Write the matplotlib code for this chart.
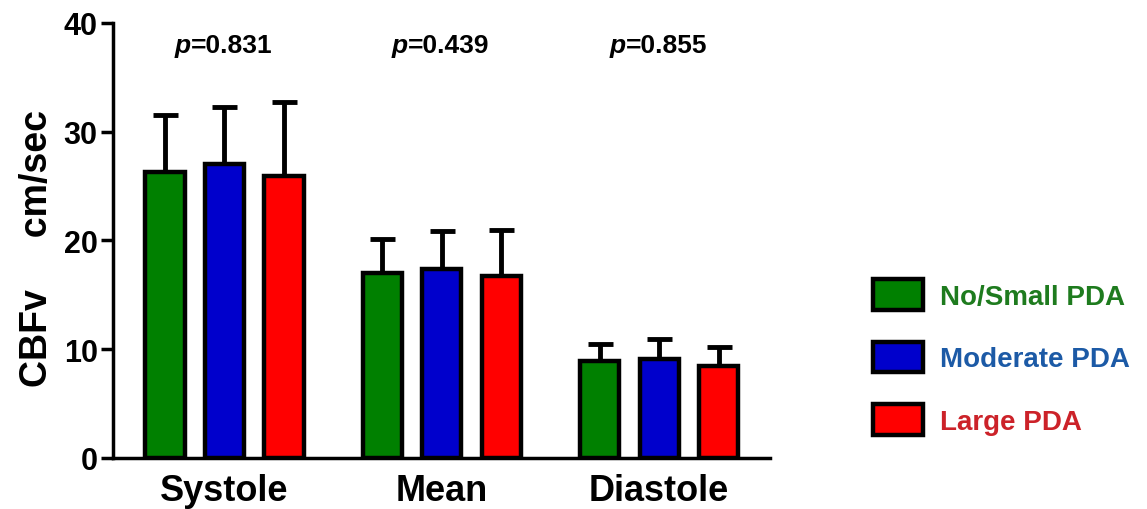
import numpy as np
import matplotlib
matplotlib.use('Agg')
import matplotlib.pyplot as plt

phases = ['Systole', 'Mean', 'Diastole']
groups = ['No/Small PDA', 'Moderate PDA', 'Large PDA']
means = {'No/Small PDA': [26.3, 17.0, 8.9],
         'Moderate PDA': [27.0, 17.4, 9.1],
         'Large PDA': [25.9, 16.7, 8.5]}
upper = {'No/Small PDA': [31.5, 20.1, 10.5],
         'Moderate PDA': [32.3, 20.9, 10.9],
         'Large PDA': [32.7, 21.0, 10.2]}
pvals = ['0.831', '0.439', '0.855']

fill_colors = ['#008000', '#0000cc', '#ff0000']
text_colors = ['#1e7b1e', '#1c5aa6', '#cc2229']

plt.rcParams['font.family'] = ['Liberation Sans', 'DejaVu Sans']

fig = plt.figure(figsize=(11.47, 5.1), dpi=100)
ax = fig.add_axes([0.0985, 0.1, 0.5725, 0.853])

x = np.arange(len(phases))
pitch = 0.2736
width = 0.18
for i, g in enumerate(groups):
    pos = x + (i - 1) * pitch
    m = np.array(means[g])
    err = np.array(upper[g]) - m
    ax.errorbar(pos, m, yerr=[np.zeros_like(err), err], fmt='none', ecolor='black',
                elinewidth=3.5, capsize=9, capthick=3.5, zorder=1)
    ax.bar(pos, m, width=width, color=fill_colors[i], edgecolor='black',
           linewidth=3.2, label=g, zorder=2)

# p values: italic "p" then the rest, roughly centred over each group
for xi, p in zip(x, pvals):
    ax.text(xi - 0.155, 38.0, 'p', ha='right', va='center', fontsize=19,
            fontweight='bold', fontstyle='italic')
    ax.text(xi - 0.155, 38.0, '=' + p, ha='left', va='center', fontsize=19,
            fontweight='bold')

ax.set_xlim(-0.513, 2.508)
ax.set_ylim(0, 40)
ax.set_yticks([0, 10, 20, 30, 40])
ax.set_xticks(x)
ax.set_xticklabels(phases, fontsize=26, fontweight='bold')
for lab in ax.get_yticklabels():
    lab.set_fontweight('bold')
    lab.set_fontsize(22)
ax.tick_params(axis='y', length=9, width=2.5, pad=2)
ax.tick_params(axis='x', length=0, pad=11)
for s in ['top', 'right']:
    ax.spines[s].set_visible(False)
for s in ['left', 'bottom']:
    ax.spines[s].set_linewidth(2.5)
ax.set_ylabel('CBFv     cm/sec', fontsize=27, fontweight='bold')
ax.yaxis.set_label_coords(-0.088, 0.485)

leg = fig.legend(loc='center left', bbox_to_anchor=(873 / 1147, 1 - 358 / 510),
                 frameon=False, handlelength=1.8, handleheight=1.33,
                 labelspacing=1.15, handletextpad=0.6, borderpad=0, borderaxespad=0,
                 labelcolor=text_colors, prop={'weight': 'bold', 'size': 20})

plt.savefig('out.png', dpi=100)
